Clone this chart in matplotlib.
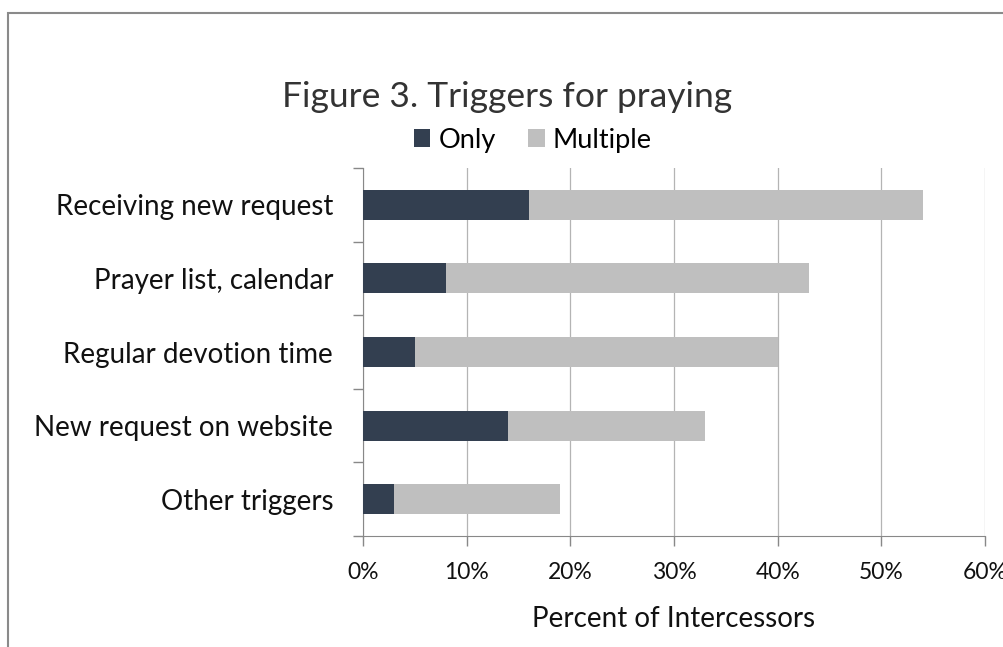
import matplotlib
matplotlib.use("Agg")
import matplotlib.pyplot as plt
from matplotlib.patches import Rectangle
import numpy as np

categories = ["Receiving new request", "Prayer list, calendar", "Regular devotion time",
              "New request on website", "Other triggers"]
only = [16, 8, 5, 14, 3]
multiple = [38, 35, 35, 19, 16]
xticks = [0, 10, 20, 30, 40, 50, 60]
xtick_labels = ["0%", "10%", "20%", "30%", "40%", "50%", "60%"]

plt.rcParams['font.family'] = ['Lato', 'DejaVu Sans']

W, H = 1004, 647
fig = plt.figure(figsize=(W/100, H/100), dpi=100)
# outer border (cropped on right and bottom)
fig.patches.append(Rectangle((8/W, -0.1), 1.2, (H-13)/H + 0.1, transform=fig.transFigure,
                             fill=False, edgecolor='#8a8a8a', linewidth=1.5))

ax = fig.add_axes([363/W, 1-536/H, (985-363)/W, (536-168)/H])
y = np.arange(len(categories))
c_only = '#333f50'
c_mult = '#bfbfbf'
ax.barh(y, only, height=0.41, color=c_only, label='Only', zorder=3)
ax.barh(y, multiple, left=only, height=0.41, color=c_mult, label='Multiple', zorder=3)
ax.set_ylim(len(categories)-0.5, -0.5)
ax.set_xlim(0, 60)
ax.set_xticks(xticks)
ax.set_xticklabels(xtick_labels, fontsize=16.5, color='#111111')
ax.set_yticks(y)
ax.set_yticklabels(categories, fontsize=20, color='#111111')
ax.set_yticks(np.arange(-0.5, len(categories)), minor=True)
ax.tick_params(axis='y', which='major', length=0, pad=21.5)
ax.tick_params(axis='y', which='minor', length=7, color='#888888', width=1)
ax.tick_params(axis='x', which='major', length=7, color='#888888', width=1, pad=12)
ax.grid(axis='x', color='#b4b4b4', linewidth=0.9, zorder=0)
for s in ['top', 'right']:
    ax.spines[s].set_visible(False)
ax.spines['left'].set_color('#888888')
ax.spines['bottom'].set_color('#888888')
ax.set_xlabel("Percent of Intercessors", fontsize=20, color='#111111', labelpad=16)

fig.text(507/W, 1-97/H, "Figure 3. Triggers for praying", fontsize=25.5, ha='center', va='center',
         color='#333333')
fig.legend(loc='center', bbox_to_anchor=(533/W, 1-140/H), ncol=2, frameon=False, fontsize=19.5,
           handlelength=0.6, handleheight=0.6, handletextpad=0.3, columnspacing=1.2)

fig.savefig("out.png", dpi=100)
